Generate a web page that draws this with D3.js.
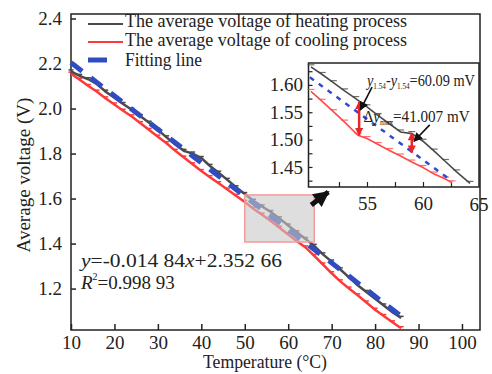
<!DOCTYPE html>
<html>
<head>
<meta charset="utf-8">
<title>Average voltage vs temperature</title>
<script src="https://d3js.org/d3.v7.min.js"></script>
<style>
  body { margin: 0; background: #fff; }
  text { font-family: "Liberation Serif", "Times New Roman", serif; fill: #222; }
</style>
</head>
<body>
<svg width="492" height="374"></svg>
<script>
// main chart data
var temps = [10,12,14,16,18,20,22,24,26,28,30,32,34,36,38,40,42,44,46,48,
             50,52,54,56,58,60,62,64,66,68,70,72,74,76,78,80,82,84,86];
var heating = [2.165,2.145,2.130,2.108,2.075,2.048,2.020,1.995,1.966,1.937,
               1.905,1.872,1.840,1.812,1.800,1.780,1.745,1.715,1.683,1.650,
               1.620,1.590,1.565,1.540,1.512,1.480,1.450,1.420,1.390,1.352,
               1.320,1.285,1.250,1.215,1.185,1.155,1.125,1.095,1.070];
var cooling = [2.155,2.128,2.100,2.075,2.045,2.018,1.990,1.965,1.935,1.905,
               1.875,1.846,1.812,1.782,1.752,1.722,1.695,1.668,1.640,1.612,
               1.585,1.555,1.528,1.500,1.470,1.440,1.410,1.383,1.345,1.307,
               1.268,1.232,1.200,1.170,1.138,1.106,1.078,1.050,1.024];
var fitT = [10, 86];
var fitV = [2.204, 1.077];
var xTicks = [10,20,30,40,50,60,70,80,90,100];
var yTicks = [1.2,1.4,1.6,1.8,2.0,2.2,2.4];

// inset data
var inHeatT = [50,51,52,53,54,55,56,57,58,59,60,61,62,63,64.2];
var inHeatV = [1.633,1.619,1.604,1.589,1.575,1.560,1.544,1.529,1.514,1.511,1.497,1.479,1.460,1.441,1.420];
var inCoolT = [50,51,52,53,54.2,55,56,57,58,59,60,61,62,62.6];
var inCoolV = [1.588,1.570,1.551,1.532,1.508,1.502,1.491,1.480,1.470,1.459,1.449,1.437,1.428,1.421];
var inFitT = [49.9, 62.6];
var inFitV = [1.614, 1.424];
var inXTicks = [55,60,65];
var inYTicks = [1.45,1.50,1.55,1.60];

var legendNames = ["The average voltage of heating process",
                   "The average voltage of cooling process",
                   "Fitting line"];

var GRAY = "#4a4a4a", RED = "#ff3838", BLUE = "#2f4cc0";

var svg = d3.select("svg");
var defs = svg.append("defs");
function arrowMarker(id, color, w, h) {
  defs.append("marker").attr("id", id)
    .attr("viewBox", "0 0 10 10").attr("refX", 9).attr("refY", 5)
    .attr("markerWidth", w).attr("markerHeight", h)
    .attr("markerUnits", "userSpaceOnUse")
    .attr("orient", "auto-start-reverse")
    .append("path").attr("d", "M0,0L10,5L0,10Z").attr("fill", color);
}
arrowMarker("arrRed", "#e8262a", 9, 8);
arrowMarker("arrBlack", "#111", 10, 9);
arrowMarker("arrBig", "#111", 20, 16);

var x = d3.scaleLinear().domain([10, 104.15]).range([71, 480]);
var y = d3.scaleLinear().domain([1.016, 2.42]).range([330, 14]);

// axes
var gx = svg.append("g").attr("transform", "translate(0,330)")
  .call(d3.axisBottom(x).tickValues(xTicks).tickSize(-6).tickPadding(6));
var gy = svg.append("g").attr("transform", "translate(71,0)")
  .call(d3.axisLeft(y).tickValues(yTicks).tickSize(-5).tickPadding(9)
        .tickFormat(d3.format(".1f")));
[gx, gy].forEach(function (g) {
  g.select(".domain").remove();
  g.selectAll("line").attr("stroke", "#222").attr("stroke-width", 1.5);
  g.selectAll("text").attr("font-size", 19).attr("fill", "#222")
    .style("font-family", "'Liberation Serif', serif");
});
svg.append("rect").attr("x", 71).attr("y", 14).attr("width", 409).attr("height", 316)
  .attr("fill", "none").attr("stroke", "#222").attr("stroke-width", 1.5);

svg.append("text").attr("transform", "translate(30,175) rotate(-90)")
  .attr("text-anchor", "middle").attr("font-size", 19).text("Average voltage (V)");
svg.append("text").attr("x", 265).attr("y", 368).attr("text-anchor", "middle")
  .attr("font-size", 18.5).attr("textLength", 124).attr("lengthAdjust", "spacingAndGlyphs")
  .text("Temperature (\u00b0C)");

// curves
function series(ts, vs) { return ts.map(function (t, i) { return [t, vs[i]]; }); }
var line = d3.line().x(function (d) { return x(d[0]); }).y(function (d) { return y(d[1]); });

function drawCurve(data, color) {
  svg.append("path").datum(data).attr("d", line).attr("fill", "none")
    .attr("stroke", color).attr("stroke-width", 2.5);
  svg.append("g").selectAll("line").data(data).join("line")
    .attr("x1", function (d) { return x(d[0]) - 2.5; })
    .attr("x2", function (d) { return x(d[0]) + 2.5; })
    .attr("y1", function (d) { return y(d[1]) - 1.5; })
    .attr("y2", function (d) { return y(d[1]) - 1.5; })
    .attr("stroke", color).attr("stroke-width", 1.5);
}
drawCurve(series(temps, cooling), RED);
drawCurve(series(temps, heating), GRAY);
svg.append("path").datum(series(fitT, fitV)).attr("d", line).attr("fill", "none")
  .attr("stroke", BLUE).attr("stroke-width", 5).attr("stroke-dasharray", "14,11");

// zoomed region box
var box = {t0: 50, t1: 66, v0: 1.407, v1: 1.616};
svg.append("rect").attr("x", x(box.t0)).attr("y", y(box.v1))
  .attr("width", x(box.t1) - x(box.t0)).attr("height", y(box.v0) - y(box.v1))
  .attr("fill", "#c8c8c8").attr("fill-opacity", 0.6)
  .attr("stroke", "#f59a9a").attr("stroke-width", 1.5);
svg.append("line").attr("x1", x(box.t1) - 3).attr("y1", y(box.v1) + 10)
  .attr("x2", x(box.t1) + 14).attr("y2", y(box.v1) - 3)
  .attr("stroke", "#111").attr("stroke-width", 5).attr("marker-end", "url(#arrBig)");

// equation
var eq = svg.append("text").attr("x", 81).attr("y", 267).attr("font-size", 19)
  .attr("textLength", 201).attr("lengthAdjust", "spacingAndGlyphs");
eq.append("tspan").attr("font-style", "italic").text("y");
eq.append("tspan").text("=-0.014 84");
eq.append("tspan").attr("font-style", "italic").text("x");
eq.append("tspan").text("+2.352 66");
var r2 = svg.append("text").attr("x", 81).attr("y", 289).attr("font-size", 19);
r2.append("tspan").attr("font-style", "italic").text("R");
r2.append("tspan").attr("font-size", 10).attr("dy", -9).text("2");
r2.append("tspan").attr("dy", 9).text("=0.998 93");

// legend
var legY = [24, 42, 60];
var legBase = [26.5, 46, 66];
var legLen = [282, 282, 77];
legendNames.forEach(function (name, i) {
  var c = [GRAY, RED, BLUE][i];
  svg.append("line").attr("x1", 88).attr("x2", i === 2 ? 107 : 123)
    .attr("y1", legY[i]).attr("y2", legY[i])
    .attr("stroke", c).attr("stroke-width", i === 2 ? 5 : 2);
  svg.append("text").attr("x", 125).attr("y", legBase[i]).attr("font-size", 19)
    .attr("textLength", legLen[i]).attr("lengthAdjust", "spacingAndGlyphs").text(name);
});

// inset
var xi = d3.scaleLinear().domain([49.78, 65]).range([308.5, 479]);
var yi = d3.scaleLinear().domain([1.4134, 1.640]).range([187, 63]);
var lineI = d3.line().x(function (d) { return xi(d[0]); }).y(function (d) { return yi(d[1]); });
var inset = svg.append("g");
inset.append("rect").attr("x", 308.5).attr("y", 63).attr("width", 170.5).attr("height", 124)
  .attr("fill", "#fff").attr("stroke", "#222").attr("stroke-width", 1.5);

var gix = inset.append("g").attr("transform", "translate(0,187)")
  .call(d3.axisBottom(xi).tickValues([52.5, 55, 57.5, 60, 62.5]).tickSize(-5)
        .tickFormat(function (d) { return inXTicks.indexOf(d) >= 0 ? d : ""; }).tickPadding(10));
gix.append("text").attr("x", xi(65)).attr("y", 10 + 13.5).attr("text-anchor", "middle")
  .text(inXTicks[2]);
var minorY = d3.range(1.425, 1.64, 0.025);
var giy = inset.append("g").attr("transform", "translate(308.5,0)")
  .call(d3.axisLeft(yi).tickValues(minorY).tickSize(-4).tickPadding(5.5)
        .tickFormat(function (d) {
          var r = Math.round(d * 100) / 100;
          return inYTicks.some(function (t) { return Math.abs(t - d) < 1e-6; }) ? r.toFixed(2) : "";
        }));
[gix, giy].forEach(function (g) {
  g.select(".domain").remove();
  g.selectAll("line").attr("stroke", "#222").attr("stroke-width", 1.2);
  g.selectAll("text").attr("font-size", 19).attr("fill", "#222")
    .style("font-family", "'Liberation Serif', serif");
});

function insetCurve(data, color) {
  inset.append("path").datum(data).attr("d", lineI).attr("fill", "none")
    .attr("stroke", color).attr("stroke-width", 1.6);
  inset.append("g").selectAll("line").data(data).join("line")
    .attr("x1", function (d) { return xi(d[0]) - 3.5; })
    .attr("x2", function (d) { return xi(d[0]) + 3.5; })
    .attr("y1", function (d) { return yi(d[1]) - 2; })
    .attr("y2", function (d) { return yi(d[1]) - 2; })
    .attr("stroke", color).attr("stroke-width", 1.2).attr("stroke-opacity", 0.8);
}
insetCurve(series(inHeatT, inHeatV), GRAY);
insetCurve(series(inCoolT, inCoolV), "#ff4a4a");
inset.append("path").datum(series(inFitT, inFitV)).attr("d", lineI).attr("fill", "none")
  .attr("stroke", "#3548d0").attr("stroke-width", 2.5).attr("stroke-dasharray", "5,6");

// red difference arrows
var diffs = [[54.3, 1.569, 1.508], [59.0, 1.512, 1.476]];
diffs.forEach(function (d) {
  inset.append("line").attr("x1", xi(d[0])).attr("x2", xi(d[0]))
    .attr("y1", yi(d[1])).attr("y2", yi(d[2]))
    .attr("stroke", "#e8262a").attr("stroke-width", 2.5)
    .attr("marker-start", "url(#arrRed)").attr("marker-end", "url(#arrRed)");
});
// black pointer arrows
var pointers = [[55.45, 1.596, 54.4, 1.554], [60.6, 1.527, 59.2, 1.497]];
pointers.forEach(function (p) {
  inset.append("line").attr("x1", xi(p[0])).attr("y1", yi(p[1]))
    .attr("x2", xi(p[2])).attr("y2", yi(p[3]))
    .attr("stroke", "#111").attr("stroke-width", 1.6).attr("marker-end", "url(#arrBlack)");
});

// annotations
var a1 = inset.append("text").attr("x", xi(55)).attr("y", yi(1.598)).attr("font-size", 16)
  .attr("textLength", 108).attr("lengthAdjust", "spacingAndGlyphs");
a1.append("tspan").attr("font-style", "italic").text("y");
a1.append("tspan").attr("font-size", 8).attr("dy", 3).text("1.54");
a1.append("tspan").attr("dy", -3).text("-");
a1.append("tspan").attr("font-style", "italic").text("y");
a1.append("tspan").attr("font-size", 8).attr("dy", 3).text("1.54");
a1.append("tspan").attr("dy", -3).text("=60.09 mV");
var a2 = inset.append("text").attr("x", xi(54.7)).attr("y", yi(1.532)).attr("font-size", 16)
  .attr("textLength", 106).attr("lengthAdjust", "spacingAndGlyphs");
a2.append("tspan").text("\u0394");
a2.append("tspan").attr("font-style", "italic").text("y");
a2.append("tspan").attr("font-size", 8).attr("dy", 3).text("max");
a2.append("tspan").attr("dy", -3).text("=41.007 mV");
</script>
</body>
</html>
